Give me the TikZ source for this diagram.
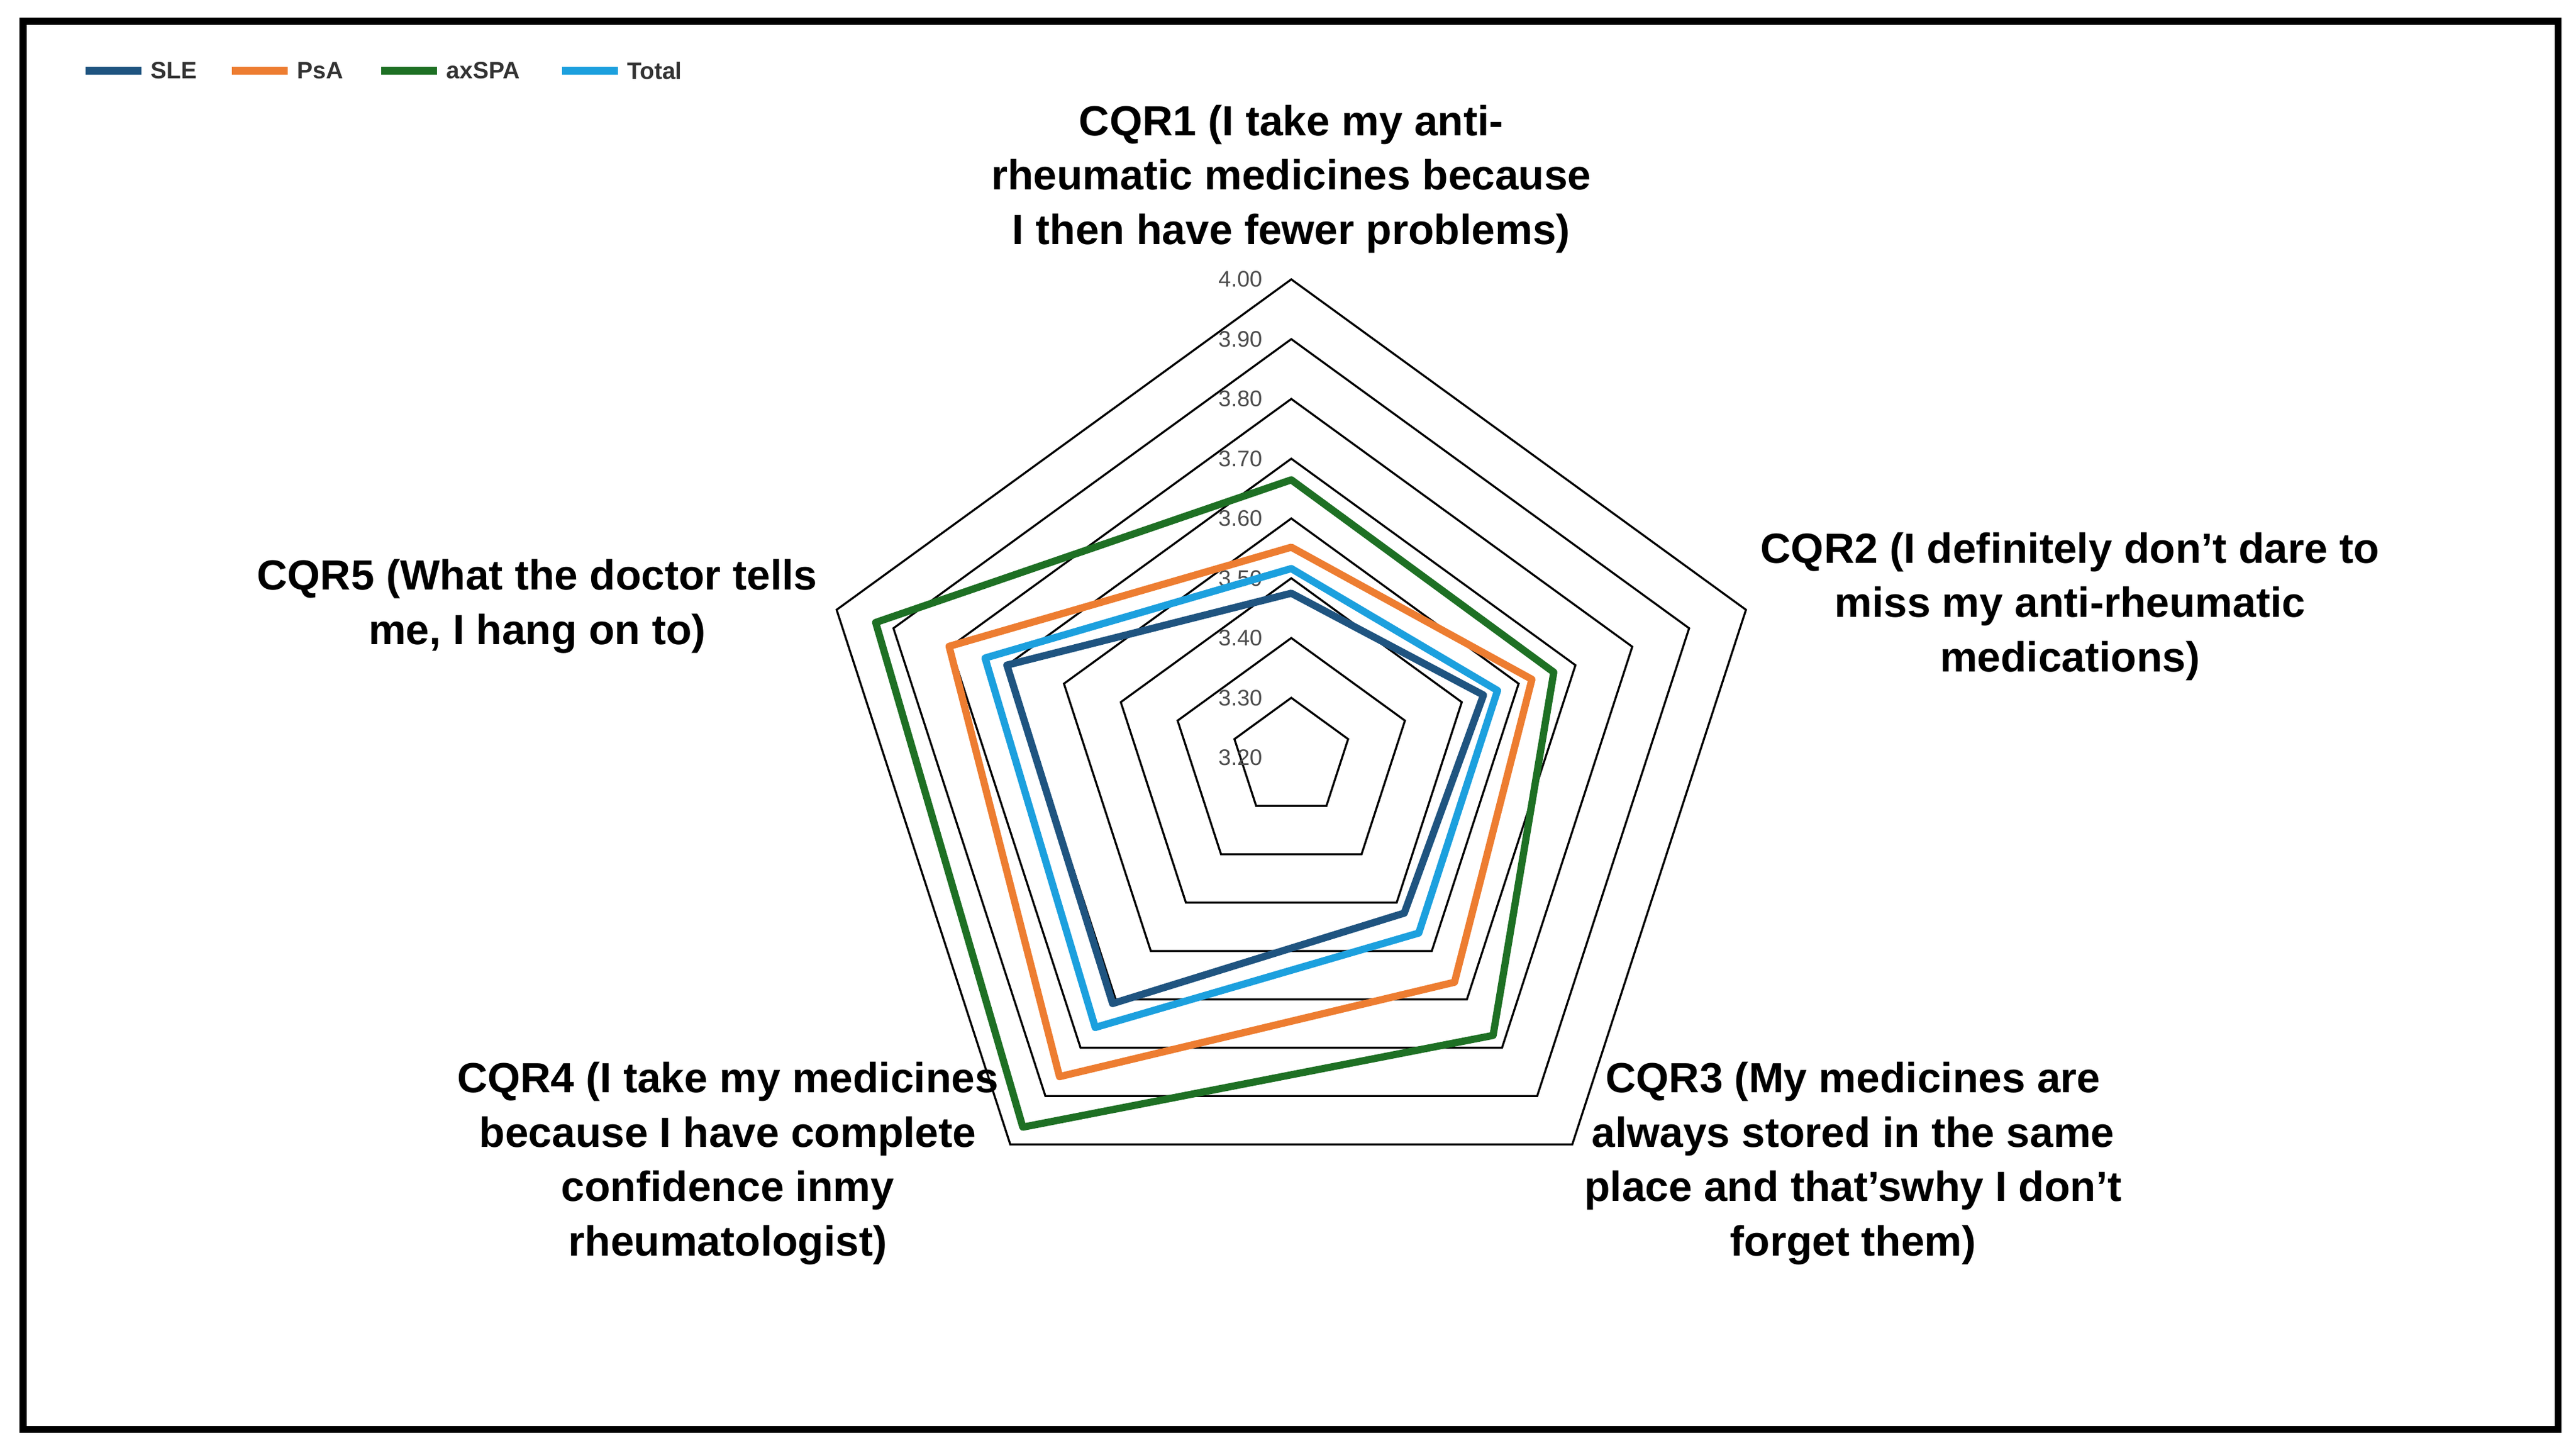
\documentclass[tikz,border=0pt]{standalone}
\usetikzlibrary{calc}
\usepackage{fontspec}
\setmainfont{Liberation Sans}
\begin{document}
\definecolor{sle}{RGB}{31,84,128}
\definecolor{psa}{RGB}{237,125,49}
\definecolor{axs}{RGB}{30,112,36}
\definecolor{tot}{RGB}{28,160,222}
\begin{tikzpicture}[x=0.01cm,y=0.01cm,
  ser/.style={line width=1.25pt,line join=round},
  lab/.style={font=\bfseries\fontsize{7.3}{9.4}\selectfont,align=center},
  tick/.style={font=\fontsize{3.9}{4.5}\selectfont,text=black!70},
  leg/.style={font=\bfseries\fontsize{4.1}{5}\selectfont,anchor=west,inner sep=0pt}]
\useasboundingbox (0,0) rectangle (1568,-879);
\draw[line width=1.2pt] (14,-13) rectangle (1557,-870);
\coordinate (C) at (786,-461);
\foreach \k in {1,...,8}{
  \draw[line width=0.35pt] ($(C)+(90:\k*36.375)$) -- ($(C)+(18:\k*36.375)$) -- ($(C)+(-54:\k*36.375)$) -- ($(C)+(-126:\k*36.375)$) -- ($(C)+(162:\k*36.375)$) -- cycle;}
\foreach \k/\v in {0/3.20,1/3.30,2/3.40,3/3.50,4/3.60,5/3.70,6/3.80,7/3.90,8/4.00}{
  \node[tick] (t\k) at ($(C)+(-31,\k*36.375)$) {\v};}
\newcommand\radar[6]{\draw[ser,#1] ($(C)+(90:#2)$) -- ($(C)+(18:#3)$) -- ($(C)+(-54:#4)$) -- ($(C)+(-126:#5)$) -- ($(C)+(162:#6)$) -- cycle;}
\radar{sle}{100}{123}{117}{185}{182}
\radar{tot}{115}{132}{132}{203}{196}
\radar{psa}{128}{154}{169}{240}{219}
\radar{axs}{169}{168}{209}{278}{266}
\node[lab] (q1) at (786,-109) {CQR1 (I take my anti-\\rheumatic medicines because\\I then have fewer problems)};
\node[lab] (q2) at (1260,-369) {CQR2 (I definitely don’t dare to\\miss my anti-rheumatic\\medications)};
\node[lab] (q3) at (1128,-708) {CQR3 (My medicines are\\always stored in the same\\place and that’swhy I don’t\\forget them)};
\node[lab] (q4) at (443,-708) {CQR4 (I take my medicines\\because I have complete\\confidence inmy\\rheumatologist)};
\node[lab] (q5) at (327,-369) {CQR5 (What the doctor tells\\me, I hang on to)};
\foreach \x/\c/\t in {52/sle/SLE,141/psa/PsA,232/axs/axSPA,342/tot/Total}{
  \coordinate (l\t) at (\x,-43);
  \draw[\c,line width=1.3pt] (l\t) -- ++(34,0) node[leg,text=black!80,xshift=1] {\t};}
\end{tikzpicture}
\end{document}
